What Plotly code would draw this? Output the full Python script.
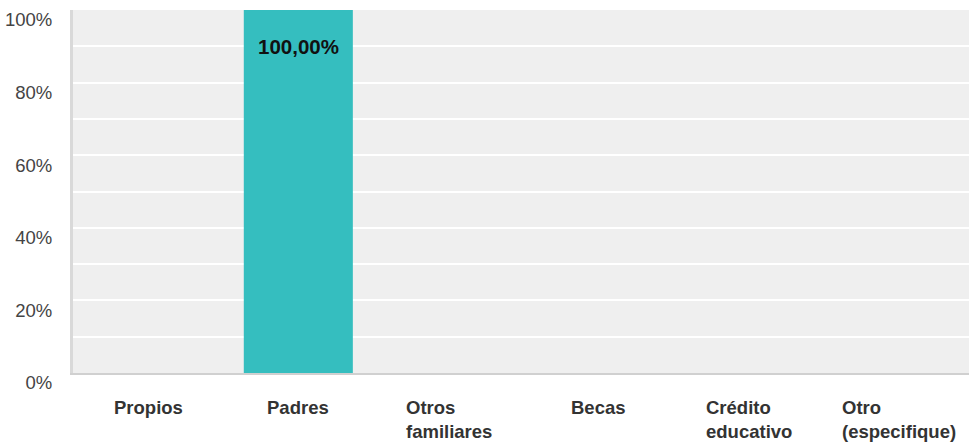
import plotly.graph_objects as go

categories = ["Propios", "Padres", "Otros<br>familiares", "Becas", "Crédito<br>educativo", "Otro<br>(especifique)"]
values = [0.0, 1.0, 0.0, 0.0, 0.0, 0.0]
tick_vals = [0, 0.2, 0.4, 0.6, 0.8, 1.0]

fig = go.Figure()
fig.add_trace(go.Bar(
    x=list(range(len(categories))), y=values,
    marker=dict(color="#35bebf", line=dict(width=0)),
    hoverinfo="skip",
))

for i, (c, v) in enumerate(zip(categories, values)):
    if v > 0:
        fig.add_annotation(x=i, y=v, xref="x", yref="y", text="<b>" + f"{v*100:.2f}".replace(".", ",") + "%</b>",
                           showarrow=False, yanchor="middle", yshift=-36,
                           font=dict(family="Liberation Sans, Arial", size=20.5, color="#111"))
    fig.add_annotation(x=i, y=0, xref="x", yref="paper", text="<b>" + c + "</b>",
                       showarrow=False, align="left", xanchor="center", yanchor="top", yshift=-22,
                       font=dict(family="Liberation Sans, Arial", size=18.5, color="#333"))

fig.update_layout(
    width=969, height=446,
    margin=dict(l=73, r=0, t=10, b=73),
    paper_bgcolor="white", plot_bgcolor="#efefef",
    bargap=0.274, showlegend=False,
    separators=",.",
    font=dict(family="Liberation Sans, Arial", size=18, color="#444"),
)
fig.update_xaxes(range=[-0.5, 5.465], showticklabels=False, showgrid=False, zeroline=False,
                 showline=True, linecolor="#d0d0d0", linewidth=2, ticks="", automargin=False)
fig.update_yaxes(range=[0, 1.0], tickvals=tick_vals, tickformat=".0%", showgrid=True,
                 gridcolor="white", gridwidth=2, zeroline=False,
                 minor=dict(dtick=0.1, showgrid=True, gridcolor="white", gridwidth=2),
                 showline=True, linecolor="#d9d9d9", linewidth=3,
                 ticklabelshift=10, ticklabelstandoff=14, automargin=False,
                 tickfont=dict(size=18.5, color="#444"))

fig.write_html("out.html", config={"displayModeBar": False},
               post_script="document.body.style.margin='0';document.body.style.overflow='hidden';")
